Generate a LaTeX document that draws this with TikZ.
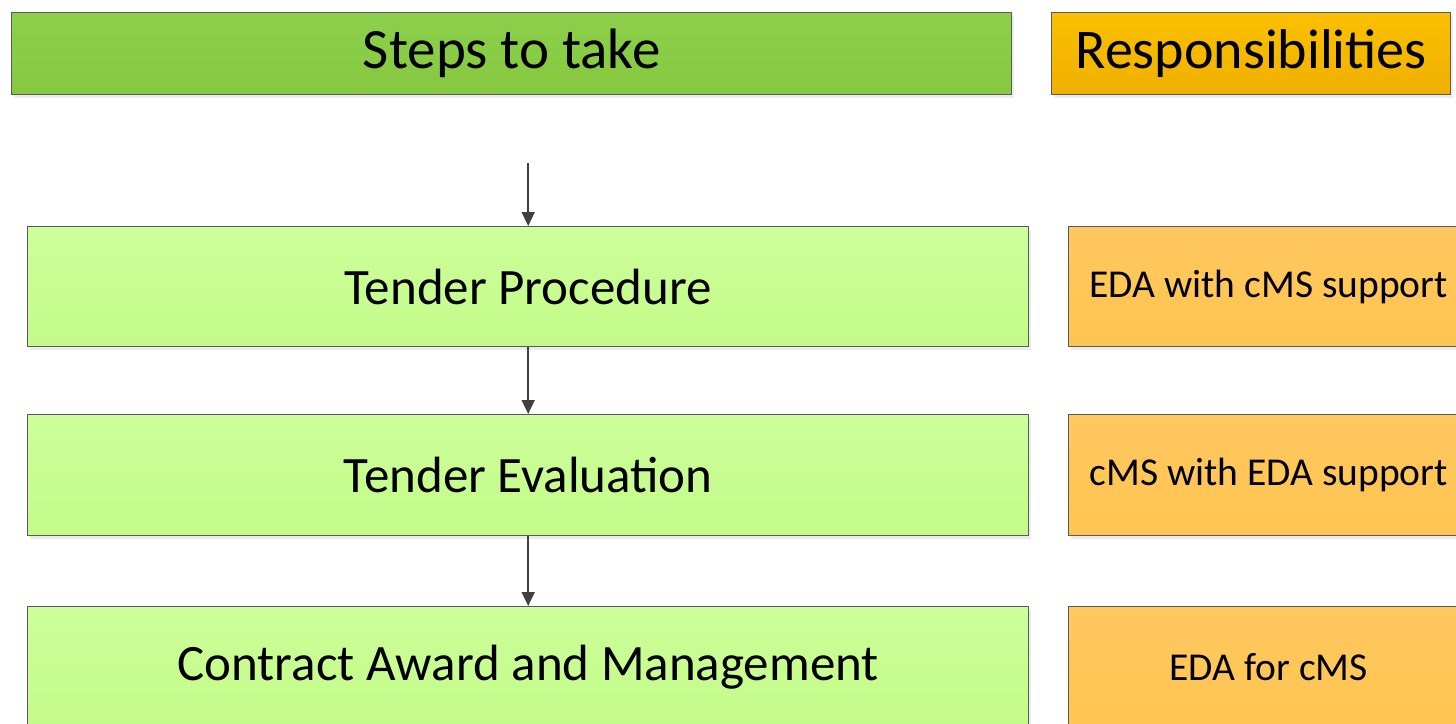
\documentclass[tikz,border=0pt]{standalone}
\usepackage{fontspec}
\setmainfont{Carlito}
\usetikzlibrary{arrows.meta,shadows}
\definecolor{hdrgreen}{HTML}{8CCF4A}
\definecolor{hdrgreenb}{HTML}{86C940}
\definecolor{hdrorange}{HTML}{FAC000}
\definecolor{hdrorangeb}{HTML}{F0B000}
\definecolor{stepgreen}{HTML}{CCFF99}
\definecolor{stepgreenb}{HTML}{C4FA8A}
\definecolor{respor}{HTML}{FFC860}
\definecolor{resporb}{HTML}{FFC450}
\definecolor{edge}{HTML}{5A5A5A}
\definecolor{arr}{HTML}{404040}
\tikzset{
  box/.style={draw=edge, line width=1.4pt, inner sep=0pt, anchor=north west,
    drop shadow={shadow xshift=2pt, shadow yshift=-3pt, opacity=0.15}},
  hdrstep/.style={box, top color=hdrgreen, bottom color=hdrgreenb,
    font=\fontsize{57}{64}\selectfont},
  hdrresp/.style={box, top color=hdrorange, bottom color=hdrorangeb,
    font=\fontsize{56}{64}\selectfont},
  stepbox/.style={box, top color=stepgreen, bottom color=stepgreenb,
    font=\fontsize{51}{58}\selectfont},
  respbox/.style={box, top color=respor, bottom color=resporb,
    font=\fontsize{39.5}{46}\selectfont},
  flow/.style={draw=arr, line width=1.6pt, -{Triangle[length=14pt,width=13pt]}}
}
\begin{document}
\begin{tikzpicture}[x=1pt,y=-1pt]
\useasboundingbox (0,0) rectangle (1456,723);
\node[hdrstep, minimum width=1000pt, minimum height=82pt] (hs) at (11,12) {Steps to take};
\node[hdrresp, minimum width=399pt, minimum height=82pt] (hr) at (1051,12) {Responsibilities};
\node[stepbox, minimum width=1001pt, minimum height=120pt] (s1) at (27,226) {Tender Procedure};
\node[stepbox, minimum width=1001pt, minimum height=121pt] (s2) at (27,414) {Tender Evaluation};
\node[stepbox, minimum width=1001pt, minimum height=120pt] (s3) at (27,606) {Contract Award and Management};
\node[respbox, minimum width=400pt, minimum height=120pt] (r1) at (1068,226) {EDA with cMS support};
\node[respbox, minimum width=400pt, minimum height=121pt] (r2) at (1068,414) {cMS with EDA support};
\node[respbox, minimum width=400pt, minimum height=120pt] (r3) at (1068,606) {EDA for cMS};
\coordinate (start) at ([yshift=63pt]s1.north);
\draw[flow] (start) -- (s1.north);
\draw[flow] (s1.south) -- (s2.north);
\draw[flow] (s2.south) -- (s3.north);
\end{tikzpicture}
\end{document}
